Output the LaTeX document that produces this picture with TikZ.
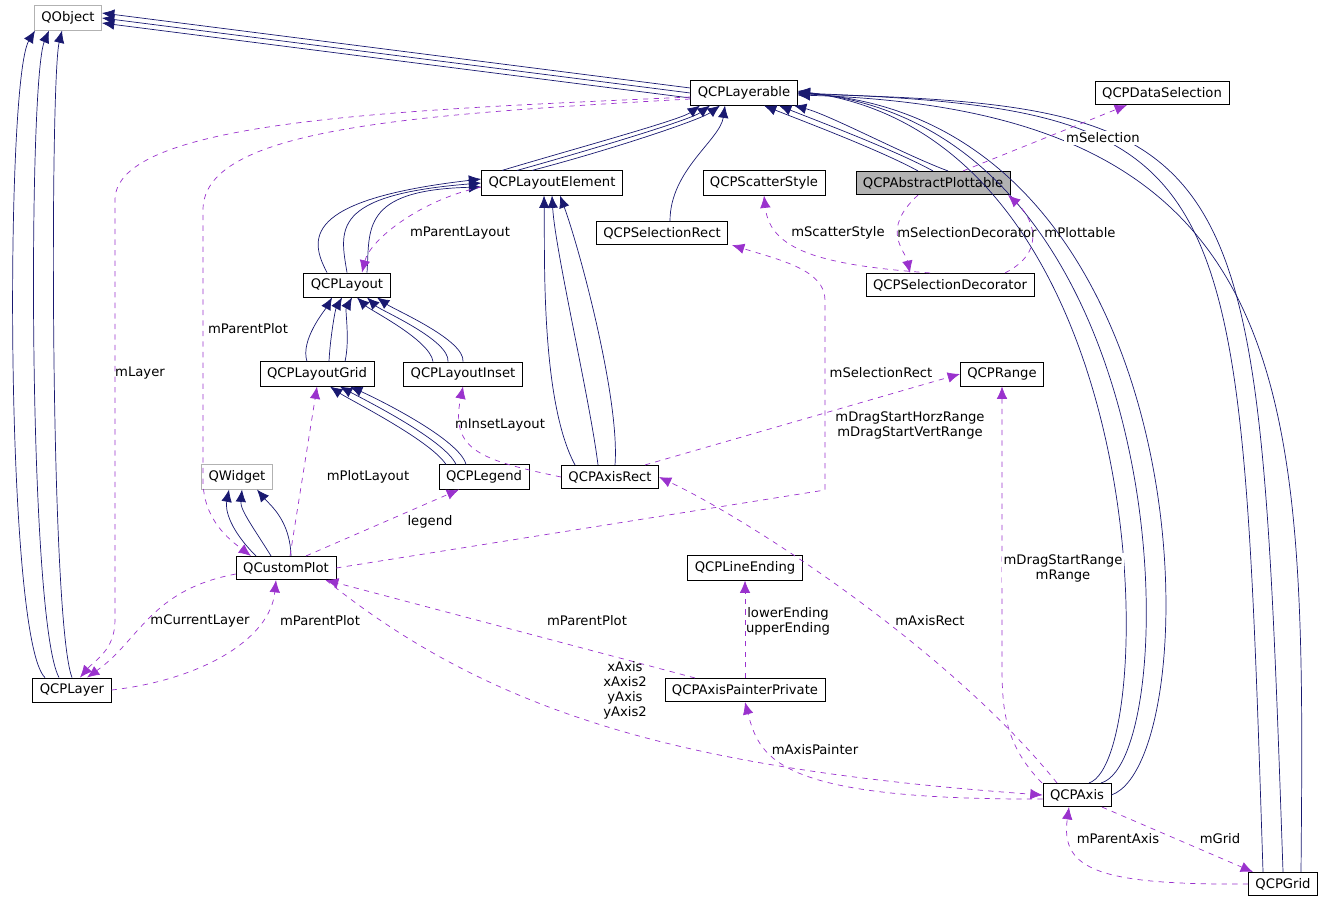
\documentclass[tikz,border=0pt]{standalone}
\usepackage{fontspec}
\setmainfont{DejaVu Sans}
\usetikzlibrary{arrows.meta}
\definecolor{navy}{RGB}{25,25,112}
\definecolor{usecol}{RGB}{154,50,205}
\tikzset{
  cls/.style={draw=black,fill=white,minimum height=0.46cm,inner xsep=4pt,font=\fontsize{7.5}{8.5}\selectfont},
  ext/.style={cls,draw=gray!60},
  inh/.style={navy,-{Latex[length=7pt,width=6pt]}},
  use/.style={usecol,dashed,-{Latex[length=7pt,width=6pt]}},
  lbl/.style={font=\fontsize{7.5}{8.5}\selectfont,align=center,inner sep=1pt}
}
\begin{document}
\begin{tikzpicture}[x=0.02cm,y=-0.02cm]
    \useasboundingbox (0,0) rectangle (1327,904);
    % classes
    \node[ext] (qobject) at (68,18) {QObject};
    \node[cls] (layerable) at (744,93) {QCPLayerable};
    \node[cls] (dataselection) at (1162,93) {QCPDataSelection};
    \node[cls] (layoutelement) at (552,183) {QCPLayoutElement};
    \node[cls] (scatterstyle) at (764,183) {QCPScatterStyle};
    \node[cls,fill=gray!60] (plottable) at (933,183) {QCPAbstractPlottable};
    \node[cls] (selectionrect) at (662,233) {QCPSelectionRect};
    \node[cls] (layout) at (347,285) {QCPLayout};
    \node[cls] (decorator) at (950,285) {QCPSelectionDecorator};
    \node[cls] (layoutgrid) at (317,374) {QCPLayoutGrid};
    \node[cls] (layoutinset) at (463,374) {QCPLayoutInset};
    \node[cls] (range) at (1002,374) {QCPRange};
    \node[ext] (qwidget) at (237,477) {QWidget};
    \node[cls] (legend) at (484,477) {QCPLegend};
    \node[cls] (axisrect) at (610,477) {QCPAxisRect};
    \node[cls] (customplot) at (286,568) {QCustomPlot};
    \node[cls] (lineending) at (745,568) {QCPLineEnding};
    \node[cls] (layer) at (72,690) {QCPLayer};
    \node[cls] (painter) at (745,690) {QCPAxisPainterPrivate};
    \node[cls] (axis) at (1077,795) {QCPAxis};
    \node[cls] (grid) at (1283,884) {QCPGrid};
    % inheritance
    \draw[inh] ([shift={(0,-5)}]layerable.west) -- ([shift={(0,-5)}]qobject.east);
    \draw[inh] (layerable.west) -- (qobject.east);
    \draw[inh] ([shift={(0,5)}]layerable.west) -- ([shift={(0,5)}]qobject.east);
    \draw[inh] ([shift={(-27,0)}]layer.north) .. controls (5,640) and (5,80) .. ([shift={(-33,0)}]qobject.south);
    \draw[inh] ([shift={(-13,0)}]layer.north) .. controls (28,620) and (28,80) .. ([shift={(-19,0)}]qobject.south);
    \draw[inh] ([shift={(0,0)}]layer.north) .. controls (50,620) and (50,80) .. ([shift={(-6,0)}]qobject.south);
    \draw[inh] ([shift={(-50,0)}]layoutelement.north) .. controls (570,150) and (680,120) .. ([shift={(-44,0)}]layerable.south);
    \draw[inh] ([shift={(-35,0)}]layoutelement.north) .. controls (590,150) and (690,120) .. ([shift={(-34,0)}]layerable.south);
    \draw[inh] ([shift={(-20,0)}]layoutelement.north) .. controls (610,150) and (700,120) .. ([shift={(-24,0)}]layerable.south);
    \draw[inh] ([shift={(8,0)}]selectionrect.north) .. controls (670,170) and (720,140) .. ([shift={(-19,0)}]layerable.south);
    \draw[inh] ([shift={(-15,0)}]plottable.north) .. controls (880,150) and (800,120) .. ([shift={(20,0)}]layerable.south);
    \draw[inh] ([shift={(0,0)}]plottable.north) .. controls (895,150) and (815,120) .. ([shift={(35,0)}]layerable.south);
    \draw[inh] ([shift={(-15,0)}]plottable.north) ++(30,0) .. controls (905,155) and (830,115) .. ([shift={(50,0)}]layerable.south);
    \draw[inh] ([shift={(12,0)}]axis.north) .. controls (1160,760) and (1160,140) .. ([shift={(0,-2)}]layerable.east);
    \draw[inh] ([shift={(24,0)}]axis.north) .. controls (1185,760) and (1185,130) .. ([shift={(0,-1)}]layerable.east);
    \draw[inh] (axis.east) .. controls (1210,760) and (1210,120) .. (layerable.east);
    \draw[inh] ([shift={(-20,0)}]grid.north) .. controls (1240,160) and (1240,110) .. ([shift={(0,0)}]layerable.east);
    \draw[inh] (grid.north) .. controls (1258,150) and (1258,105) .. ([shift={(0,1)}]layerable.east);
    \draw[inh] ([shift={(18,0)}]grid.north) .. controls (1305,400) and (1310,110) .. ([shift={(0,2)}]layerable.east);
    \draw[inh] ([shift={(-20,0)}]layout.north) .. controls (310,240) and (300,200) .. ([shift={(0,-4)}]layoutelement.west);
    \draw[inh] (layout.north) .. controls (340,230) and (330,195) .. (layoutelement.west);
    \draw[inh] ([shift={(20,0)}]layout.north) .. controls (370,230) and (360,190) .. ([shift={(0,4)}]layoutelement.west);
    \draw[inh] ([shift={(-35,0)}]axisrect.north) .. controls (540,400) and (545,250) .. ([shift={(-8,0)}]layoutelement.south);
    \draw[inh] ([shift={(-12,0)}]axisrect.north) .. controls (590,400) and (555,250) .. (layoutelement.south);
    \draw[inh] ([shift={(5,0)}]axisrect.north) .. controls (620,400) and (580,250) .. ([shift={(8,0)}]layoutelement.south);
    \draw[inh] ([shift={(-10,0)}]layoutgrid.north) .. controls (300,340) and (325,310) .. ([shift={(-15,0)}]layout.south);
    \draw[inh] ([shift={(12,0)}]layoutgrid.north) .. controls (330,340) and (335,310) .. ([shift={(-5,0)}]layout.south);
    \draw[inh] ([shift={(28,0)}]layoutgrid.north) .. controls (350,340) and (345,310) .. ([shift={(5,0)}]layout.south);
    \draw[inh] ([shift={(-30,0)}]layoutinset.north) .. controls (430,340) and (370,310) .. ([shift={(10,0)}]layout.south);
    \draw[inh] ([shift={(-15,0)}]layoutinset.north) .. controls (450,340) and (380,310) .. ([shift={(20,0)}]layout.south);
    \draw[inh] (layoutinset.north) .. controls (465,340) and (395,310) .. ([shift={(30,0)}]layout.south);
    \draw[inh] ([shift={(-38,0)}]legend.north) .. controls (430,440) and (350,400) .. ([shift={(13,0)}]layoutgrid.south);
    \draw[inh] ([shift={(-28,0)}]legend.north) .. controls (445,440) and (365,400) .. ([shift={(23,0)}]layoutgrid.south);
    \draw[inh] ([shift={(-18,0)}]legend.north) .. controls (460,440) and (380,400) .. ([shift={(33,0)}]layoutgrid.south);
    \draw[inh] ([shift={(-30,0)}]customplot.north) .. controls (230,530) and (225,510) .. ([shift={(-8,0)}]qwidget.south);
    \draw[inh] ([shift={(-15,0)}]customplot.north) .. controls (255,530) and (240,510) .. ([shift={(5,0)}]qwidget.south);
    \draw[inh] ([shift={(5,0)}]customplot.north) .. controls (290,520) and (270,505) .. ([shift={(20,0)}]qwidget.south);
    % usage
    \draw[use] ([shift={(0,4)}]layerable.west) .. controls (400,110) and (115,120) .. (115,200) -- (115,620) .. controls (115,650) and (95,660) .. ([shift={(8,0)}]layer.north);
    \draw[use] ([shift={(0,6)}]layerable.west) .. controls (400,115) and (203,130) .. (203,210) -- (203,480) .. controls (203,520) and (230,540) .. ([shift={(-35,0)}]customplot.north);
    \node[lbl] at (140,373) {mLayer};
    \node[lbl] at (248,329) {mParentPlot};
    \draw[use] ([shift={(30,0)}]plottable.north) -- ([shift={(-35,0)}]dataselection.south);
    \node[lbl,fill=white] at (1103,138) {mSelection};
    \draw[use] ([shift={(0,4)}]layoutelement.west) .. controls (420,200) and (370,240) .. ([shift={(15,0)}]layout.north);
    \node[lbl] at (460,233) {mParentLayout};
    \draw[use] ([shift={(-20,0)}]decorator.north) .. controls (820,265) and (770,250) .. (scatterstyle.south);
    \node[lbl] at (838,233) {mScatterStyle};
    \draw[use] ([shift={(-15,0)}]plottable.south) .. controls (880,230) and (905,250) .. ([shift={(-40,0)}]decorator.north);
    \node[lbl] at (967,233) {mSelectionDecorator};
    \draw[use] ([shift={(55,0)}]decorator.north) .. controls (1050,250) and (1030,215) .. ([shift={(75,0)}]plottable.south);
    \node[lbl] at (1080,233) {mPlottable};
    \draw[use] (customplot.east) -- (825,490) -- (825,300) .. controls (825,270) and (780,260) .. ([shift={(70,0)}]selectionrect.south);
    \node[lbl] at (881,373) {mSelectionRect};
    \draw[use] ([shift={(35,0)}]axisrect.north) -- (range.west);
    \node[lbl] at (910,425) {mDragStartHorzRange\\mDragStartVertRange};
    \draw[use] (axisrect.west) .. controls (480,460) and (450,450) .. (layoutinset.south);
    \node[lbl] at (500,425) {mInsetLayout};
    \draw[use] ([shift={(4,0)}]customplot.north) -- (layoutgrid.south);
    \node[lbl] at (368,477) {mPlotLayout};
    \draw[use] ([shift={(20,0)}]customplot.north) -- ([shift={(-25,0)}]legend.south);
    \node[lbl] at (430,522) {legend};
    \draw[use] (layer.east) .. controls (200,680) and (270,640) .. ([shift={(-10,0)}]customplot.south);
    \node[lbl] at (320,621) {mParentPlot};
    \draw[use] ([shift={(0,6)}]customplot.west) .. controls (150,590) and (140,640) .. ([shift={(15,0)}]layer.north);
    \node[lbl] at (200,621) {mCurrentLayer};
    \draw[use] ([shift={(-50,0)}]painter.north) -- ([shift={(40,0)}]customplot.south);
    \node[lbl] at (587,621) {mParentPlot};
    \draw[use] (painter.north) -- (lineending.south);
    \node[lbl] at (788,621) {lowerEnding\\upperEnding};
    \draw[use] ([shift={(40,0)}]customplot.south) .. controls (500,720) and (700,770) .. (axis.west);
    \node[lbl] at (625,690) {xAxis\\xAxis2\\yAxis\\yAxis2};
    \draw[use] ([shift={(0,4)}]axis.west) .. controls (780,800) and (760,760) .. (painter.south);
    \node[lbl] at (815,750) {mAxisPainter};
    \draw[use] ([shift={(-20,0)}]axis.north) .. controls (950,650) and (750,520) .. (axisrect.east);
    \node[lbl] at (930,621) {mAxisRect};
    \draw[use] ([shift={(-35,0)}]axis.north) .. controls (1000,740) and (1002,700) .. (1002,650) -- (range.south);
    \node[lbl,fill=white] at (1063,568) {mDragStartRange\\mRange};
    \draw[use] ([shift={(25,0)}]axis.south) -- ([shift={(-30,0)}]grid.north);
    \node[lbl] at (1220,839) {mGrid};
    \draw[use] (grid.west) .. controls (1100,885) and (1060,870) .. ([shift={(-8,0)}]axis.south);
    \node[lbl] at (1118,839) {mParentAxis};
\end{tikzpicture}
\end{document}
